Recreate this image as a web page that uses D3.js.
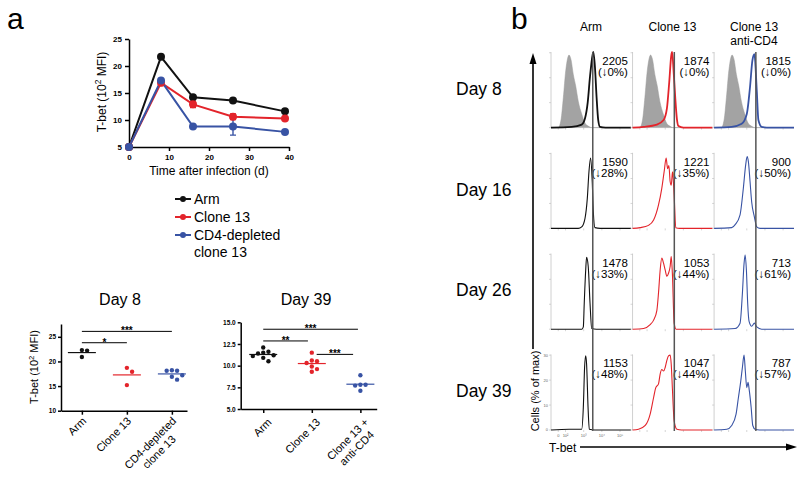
<!DOCTYPE html>
<html>
<head>
<meta charset="utf-8">
<script src="https://cdn.jsdelivr.net/npm/d3@7"></script>
<style>
body { margin: 0; background: #fff; }
svg { display: block; font-family: "Liberation Sans", Arial, sans-serif; }
</style>
</head>
<body>
<div id="chart-area"></div>
<script>
// ---------- panel a: time course ----------
var days = [0, 8, 16, 26, 39];
var armMfi = [5, 21.7, 14.2, 13.6, 11.6];
var armErr = [0, 0.2, 0.2, 0.3, 0.2];
var clone13Mfi = [5, 16.9, 12.9, 10.6, 10.3];
var clone13Err = [0, 0.5, 0.6, 0.5, 0.3];
var cd4Mfi = [5, 17.3, 8.8, 8.8, 7.8];
var cd4Err = [0, 0.3, 0.2, 1.6, 0.2];
var timeTicks = [0, 10, 20, 30, 40];
var mfiTicks = [5, 10, 15, 20, 25];
var seriesNames = ["Arm", "Clone 13", "CD4-depleted\nclone 13"];

// ---------- panel a: day 8 / day 39 scatter ----------
var day8Groups = ["Arm", "Clone 13", "CD4-depleted\nclone 13"];
var day8Arm = [22.3, 22.2, 20.9];
var day8Clone13 = [18.7, 17.9, 15.2];
var day8Cd4 = [18.2, 18.1, 18.1, 17.2, 16.9, 16.3];
var day8Ticks = [10, 15, 20, 25];
var day8Stars = [
  {from: 0, to: 2, at: 26.1, label: "***"},
  {from: 0, to: 1, at: 23.8, label: "*"}
];

var day39Groups = ["Arm", "Clone 13", "Clone 13 +\nanti-CD4"];
var day39Arm = [12.1, 11.6, 11.5, 11.4, 11.2, 11.1, 10.9, 10.5];
var day39Clone13 = [11.5, 10.6, 10.5, 10.3, 9.9, 9.6, 9.3];
var day39Cd4 = [8.9, 7.8, 7.8, 7.7, 7.1];
var day39Ticks = [5, 7.5, 10, 12.5, 15];
var day39Stars = [
  {from: 0, to: 1.95, at: 14.2, label: "***"},
  {from: 0, to: 0.92, at: 12.85, label: "**"},
  {from: 1.1, to: 1.85, at: 11.3, label: "***"}
];

// ---------- panel b: histograms, [log10 T-bet, % of max] ----------
var hColumns = ["Arm", "Clone 13", "Clone 13\nanti-CD4"];
var hDays = ["Day 8", "Day 16", "Day 26", "Day 39"];
var isotype = [[1.2,0],[1.6,0],[1.75,10],[1.88,40],[2.01,75],[2.12,92],[2.19,96],[2.3,90],[2.43,70],[2.56,55],[2.7,35],[2.89,18],[3.07,6],[3.25,2],[3.44,0],[5.6,0]];

var histArm8 = [[1.2,0],[2.34,1],[2.89,4],[3.07,12],[3.22,33],[3.35,68],[3.49,96],[3.53,100],[3.62,80],[3.71,40],[3.8,10],[3.9,1],[4.2,0],[5.6,0]];
var histClone8 = [[1.2,0],[1.81,1],[2.54,4],[2.91,10],[3.09,25],[3.22,60],[3.33,95],[3.38,100],[3.46,75],[3.55,40],[3.64,12],[3.73,2],[4.0,0],[5.6,0]];
var histCd4_8 = [[1.2,0],[2.17,1],[2.72,5],[3.0,18],[3.18,54],[3.31,89],[3.42,97],[3.55,49],[3.64,10],[3.82,1],[4.1,0],[5.6,0]];

var histArm16 = [[1.2,0],[2.7,0],[2.89,2],[3.07,13],[3.2,40],[3.29,75],[3.38,93],[3.47,62],[3.53,22],[3.62,1],[3.9,0],[5.6,0]];
var histClone16 = [[1.2,0],[1.62,1],[2.08,4],[2.36,11],[2.63,31],[2.81,53],[2.94,75],[3.05,93],[3.13,79],[3.2,83],[3.27,62],[3.33,57],[3.4,75],[3.49,44],[3.58,1],[3.8,0],[5.6,0]];
var histCd4_16 = [[1.2,0],[2.17,1],[2.36,5],[2.63,18],[2.81,53],[2.94,84],[3.02,95],[3.09,88],[3.18,62],[3.27,35],[3.42,15],[3.55,2],[3.73,0],[5.6,0]];

var histArm26 = [[1.2,0],[2.9,0],[2.98,3],[3.03,34],[3.11,78],[3.16,95],[3.25,83],[3.35,34],[3.44,1],[3.7,0],[5.6,0]];
var histClone26 = [[1.2,0],[1.81,1],[2.17,6],[2.36,12],[2.54,25],[2.63,48],[2.72,78],[2.81,94],[2.91,87],[3.0,78],[3.09,70],[3.18,74],[3.27,83],[3.33,96],[3.4,70],[3.49,8],[3.6,0],[5.6,0]];
var histCd4_26 = [[1.2,0],[2.36,1],[2.63,8],[2.76,48],[2.85,87],[2.91,98],[2.98,78],[3.05,34],[3.13,10],[3.27,4],[3.42,8],[3.55,3],[3.82,0],[5.6,0]];

var histArm39 = [[1.2,0],[2.2,1],[2.89,1],[2.98,30],[3.05,83],[3.11,98],[3.16,87],[3.24,30],[3.31,1],[3.6,0],[5.6,0]];
var histClone39 = [[1.2,0],[1.53,1],[1.9,6],[2.17,21],[2.36,43],[2.48,56],[2.63,61],[2.72,74],[2.81,80],[2.91,78],[3.0,83],[3.09,92],[3.18,98],[3.27,99],[3.33,87],[3.4,52],[3.49,12],[3.64,1],[3.9,0],[5.6,0]];
var histCd4_39 = [[1.2,0],[1.9,1],[2.17,6],[2.41,21],[2.54,43],[2.67,65],[2.76,83],[2.85,99],[2.92,78],[3.0,56],[3.07,63],[3.14,52],[3.24,30],[3.33,6],[3.46,1],[3.7,0],[5.6,0]];

var mfiArm = [2205, 1590, 1478, 1153];
var dropArm = [0, 28, 33, 48];
var mfiClone13 = [1874, 1221, 1053, 1047];
var dropClone13 = [0, 35, 44, 44];
var mfiCd4 = [1815, 900, 713, 787];
var dropCd4 = [0, 50, 61, 57];
var refLog = 3.5;
var flTicks = [1.6, 2, 3, 4, 5];
var flTickLabels = ["0", "10\u00b2", "10\u00b3", "10\u2074", "10\u2075"];
var cellTicks = [0, 33, 66, 99];
var cellTickLabels = ["0", "10", "20", "30"];

var black = "#111", red = "#e3242b", blue = "#3853a4";
var groupColors = [black, red, blue];

var svg = d3.select("#chart-area")
    .append("svg")
        .attr("width", 800)
        .attr("height", 483);

svg.append("text").attr("x", 7).attr("y", 29).attr("font-size", 30).text("a");
svg.append("text").attr("x", 511).attr("y", 29).attr("font-size", 30).text("b");

function styleAxis(sel, fs) {
    sel.attr("font-family", null).attr("font-size", null);
    sel.selectAll(".domain, .tick line").attr("stroke", "#000").attr("stroke-width", 1.5);
    sel.selectAll(".tick text").attr("font-size", fs).attr("font-weight", "bold").attr("fill", "#000");
}

function tbetTitle(g, px, py, fs) {
    var t = g.append("text")
        .attr("transform", "translate(" + px + "," + py + ") rotate(-90)")
        .attr("text-anchor", "middle")
        .attr("font-size", fs);
    t.append("tspan").text("T-bet (10");
    t.append("tspan").attr("dy", -fs * 0.4).attr("font-size", fs * 0.7).text("2");
    t.append("tspan").attr("dy", fs * 0.4).text(" MFI)");
}

// ---------- time course ----------
var x = d3.scaleLinear().domain([0, 40]).range([129, 289]);
var y = d3.scaleLinear().domain([5, 25]).range([147, 39]);
var tc = svg.append("g");

tc.append("g")
    .attr("transform", "translate(0,147)")
    .call(d3.axisBottom(x).tickValues(timeTicks).tickSize(4).tickSizeOuter(0))
    .call(styleAxis, 8);
tc.append("g")
    .attr("transform", "translate(129,0)")
    .call(d3.axisLeft(y).tickValues(mfiTicks).tickSize(4).tickSizeOuter(0))
    .call(styleAxis, 8);

tbetTitle(tc, 106, 92, 12);
tc.append("text")
    .attr("x", 209).attr("y", 175)
    .attr("text-anchor", "middle")
    .attr("font-size", 12)
    .text("Time after infection (d)");

var series = [
    {name: seriesNames[0], values: armMfi, err: armErr, color: black},
    {name: seriesNames[1], values: clone13Mfi, err: clone13Err, color: red},
    {name: seriesNames[2], values: cd4Mfi, err: cd4Err, color: blue}
];

var line = d3.line()
    .x((d, i) => x(days[i]))
    .y(d => y(d));

series.forEach(s => {
    tc.append("path")
        .attr("d", line(s.values))
        .attr("fill", "none")
        .attr("stroke", s.color)
        .attr("stroke-width", 2);
});

series.forEach(s => {
    s.values.forEach((v, i) => {
        var e = s.err[i];
        if (!e) return;
        var cx = x(days[i]);
        tc.append("path")
            .attr("d", "M" + cx + "," + y(v - e) + "V" + y(v + e) +
                "M" + (cx - 3) + "," + y(v - e) + "H" + (cx + 3) +
                "M" + (cx - 3) + "," + y(v + e) + "H" + (cx + 3))
            .attr("stroke", s.color)
            .attr("stroke-width", 1.4)
            .attr("fill", "none");
    });
});

series.forEach(s => {
    tc.selectAll(null)
        .data(s.values)
        .enter()
        .append("circle")
            .attr("cx", (d, i) => x(days[i]))
            .attr("cy", d => y(d))
            .attr("r", 4)
            .attr("fill", s.color);
});

// legend
var legend = svg.append("g").attr("transform", "translate(175,199)");
series.forEach((s, i) => {
    var row = legend.append("g").attr("transform", "translate(0," + i * 18 + ")");
    row.append("line").attr("x1", 0).attr("x2", 16)
        .attr("stroke", s.color).attr("stroke-width", 2);
    row.append("circle").attr("cx", 8).attr("r", 3).attr("fill", s.color);
    var t = row.append("text").attr("x", 19).attr("y", 5).attr("font-size", 14);
    s.name.split("\n").forEach((ln, j) => {
        t.append("tspan").attr("x", 19).attr("dy", j ? 17 : 0).text(ln);
    });
});

// ---------- dot plots ----------
function swarm(vals, ys, r) {
    var placed = [], step = 2 * r + 0.8;
    vals.slice().sort(d3.descending).forEach(v => {
        var py = ys(v), dx = 0;
        for (var k = 0; k < 20; k++) {
            dx = (k % 2 ? 1 : -1) * Math.ceil(k / 2) * step;
            if (placed.every(p => Math.hypot(p[0] - dx, p[1] - py) >= step)) break;
        }
        placed.push([dx, py]);
    });
    return placed;
}

function dotPlot(cfg) {
    var g = svg.append("g");
    var ys = d3.scaleLinear().domain(cfg.domain).range([cfg.yBottom, cfg.yTop]);
    var xs = d3.scalePoint().domain(cfg.groups).range([cfg.x0, cfg.x1]).padding(0.4).align(0.58);
    var n = cfg.groups.length;
    var xi = d3.scaleLinear().domain([0, n - 1]).range([xs(cfg.groups[0]), xs(cfg.groups[n - 1])]);

    g.append("g")
        .attr("transform", "translate(0," + cfg.yBottom + ")")
        .call(d3.axisBottom(xs).tickSize(4).tickSizeOuter(0).tickFormat(""))
        .call(styleAxis, 6);
    g.append("g")
        .attr("transform", "translate(" + cfg.x0 + ",0)")
        .call(d3.axisLeft(ys).tickValues(cfg.ticks).tickSize(3).tickPadding(2)
            .tickSizeOuter(0).tickFormat(cfg.fmt))
        .call(styleAxis, 6.5);

    cfg.sets.forEach((vals, i) => {
        var cx = xs(cfg.groups[i]);
        var m = d3.mean(vals);
        g.append("line")
            .attr("x1", cx - 14).attr("x2", cx + 14)
            .attr("y1", ys(m)).attr("y2", ys(m))
            .attr("stroke", groupColors[i]).attr("stroke-width", 1.2);
        g.selectAll(null)
            .data(swarm(vals, ys, 2.2))
            .enter()
            .append("circle")
                .attr("cx", d => cx + d[0])
                .attr("cy", d => d[1])
                .attr("r", 2.2)
                .attr("fill", groupColors[i]);
    });

    cfg.stars.forEach(s => {
        var sy = ys(s.at);
        g.append("line")
            .attr("x1", xi(s.from)).attr("x2", xi(s.to))
            .attr("y1", sy).attr("y2", sy)
            .attr("stroke", "#000").attr("stroke-width", 1);
        g.append("text")
            .attr("x", (xi(s.from) + xi(s.to)) / 2).attr("y", sy + 3)
            .attr("text-anchor", "middle")
            .attr("font-size", 10).attr("font-weight", "bold")
            .text(s.label);
    });

    cfg.groups.forEach(name => {
        var t = g.append("text")
            .attr("transform", "translate(" + (xs(name) + cfg.ldx) + "," + (cfg.yBottom + cfg.ldy) + ") rotate(-45)")
            .attr("text-anchor", "end")
            .attr("font-size", 11);
        var spans = name.split("\n").map((ln, j) =>
            t.append("tspan").attr("x", 0).attr("dy", j ? "1.15em" : 0).text(ln));
        var w = spans.map(sp => sp.node().getComputedTextLength());
        var W = d3.max(w);
        spans.forEach((sp, j) => sp.attr("x", -(W - w[j]) / 2));
    });

    g.append("text")
        .attr("x", cfg.titleX).attr("y", 305)
        .attr("text-anchor", "middle")
        .attr("font-size", 16)
        .text(cfg.title);

    if (cfg.yTitle) tbetTitle(g, 38, 367, 11);
}

dotPlot({
    x0: 61, x1: 187, yBottom: 410.7, yTop: 324, domain: [10, 27.6],
    ticks: day8Ticks, fmt: d3.format("d"), groups: day8Groups,
    sets: [day8Arm, day8Clone13, day8Cd4], stars: day8Stars,
    title: "Day 8", titleX: 120, ldx: 5, ldy: 11, yTitle: true
});

dotPlot({
    x0: 240.7, x1: 376.7, yBottom: 409, yTop: 322.3, domain: [5, 15],
    ticks: day39Ticks, fmt: d3.format(".1f"), groups: day39Groups,
    sets: [day39Arm, day39Clone13, day39Cd4], stars: day39Stars,
    title: "Day 39", titleX: 306, ldx: 9, ldy: 14, yTitle: false
});

// ---------- panel b: histograms ----------
var histRows = [
    [histArm8, histClone8, histCd4_8],
    [histArm16, histClone16, histCd4_16],
    [histArm26, histClone26, histCd4_26],
    [histArm39, histClone39, histCd4_39]
];
var mfiCols = [mfiArm, mfiClone13, mfiCd4];
var dropCols = [dropArm, dropClone13, dropCd4];

var colScale = d3.scaleBand().domain(hColumns).range([551, 794]).paddingInner(0.02);
var rowScale = d3.scaleBand().domain(hDays).range([52, 430]).paddingInner(0.25);
var fl = d3.scaleLinear().domain([1.2, 5.6]).range([0, colScale.bandwidth()]);
var cnt = d3.scaleLinear().domain([0, 100]).range([rowScale.bandwidth(), 0]);
var bw = colScale.bandwidth(), bh = rowScale.bandwidth();

var histLine = d3.line().x(d => fl(d[0])).y(d => cnt(d[1])).curve(d3.curveMonotoneX);
var isoArea = d3.area().x(d => fl(d[0])).y0(cnt(0)).y1(d => cnt(d[1])).curve(d3.curveMonotoneX);

var hb = svg.append("g");

hDays.forEach((day, r) => {
    hColumns.forEach((col, c) => {
        var p = hb.append("g")
            .attr("transform", "translate(" + colScale(col) + "," + rowScale(day) + ")");
        p.append("line").attr("x1", 0).attr("x2", 0).attr("y1", 0).attr("y2", bh)
            .attr("stroke", "#c4c4c4").attr("stroke-width", 0.8);
        flTicks.forEach(t => {
            p.append("line").attr("x1", fl(t)).attr("x2", fl(t)).attr("y1", bh).attr("y2", bh + 2)
                .attr("stroke", "#bbb").attr("stroke-width", 0.6);
        });
        cellTicks.forEach(t => {
            p.append("line").attr("x1", -2).attr("x2", 0).attr("y1", cnt(t)).attr("y2", cnt(t))
                .attr("stroke", "#bbb").attr("stroke-width", 0.6);
        });
        if (r === 0) {
            p.append("path").attr("d", isoArea(isotype))
                .attr("fill", "#a3a3a3").attr("stroke", "#999").attr("stroke-width", 0.5);
        }
        p.append("path").attr("d", histLine(histRows[r][c]))
            .attr("fill", "none")
            .attr("stroke", groupColors[c])
            .attr("stroke-width", r === 0 ? 1.8 : 1.1);
        p.append("text")
            .attr("x", bw - 3).attr("y", 13)
            .attr("text-anchor", "end").attr("font-size", 11.5)
            .text(mfiCols[c][r]);
        p.append("text")
            .attr("x", bw - 3).attr("y", 24)
            .attr("text-anchor", "end").attr("font-size", 11.5)
            .text("(\u2193" + dropCols[c][r] + "%)");
        if (r === hDays.length - 1 && c === 0) {
            p.selectAll(null).data(flTicks).enter().append("text")
                .attr("x", d => fl(d)).attr("y", bh + 7)
                .attr("text-anchor", "middle").attr("font-size", 4).attr("fill", "#666")
                .text((d, i) => flTickLabels[i]);
            p.selectAll(null).data(cellTicks).enter().append("text")
                .attr("x", -3).attr("y", d => cnt(d) + 1.5)
                .attr("text-anchor", "end").attr("font-size", 4).attr("fill", "#666")
                .text((d, i) => cellTickLabels[i]);
        }
    });
});

// reference lines at the day 8 peak
hColumns.forEach(col => {
    var rx = colScale(col) + fl(refLog);
    hb.append("line")
        .attr("x1", rx).attr("x2", rx)
        .attr("y1", 52).attr("y2", 431)
        .attr("stroke", "#555").attr("stroke-width", 1.5);
});

// column headers
hColumns.forEach(col => {
    var t = hb.append("text")
        .attr("x", colScale(col) + bw / 2).attr("y", 31)
        .attr("text-anchor", "middle").attr("font-size", 12);
    col.split("\n").forEach((ln, j) => {
        t.append("tspan").attr("x", colScale(col) + bw / 2).attr("dy", j ? 14 : 0).text(ln);
    });
});

// row labels
hDays.forEach(day => {
    hb.append("text")
        .attr("x", 456).attr("y", rowScale(day) + bh / 2 + 5)
        .attr("font-size", 17.5)
        .text(day);
});

// axis arrows
hb.append("line").attr("x1", 533).attr("x2", 533).attr("y1", 62).attr("y2", 349)
    .attr("stroke", "#000").attr("stroke-width", 1.6);
hb.append("path").attr("d", "M533,53L529.5,64L536.5,64Z").attr("fill", "#000");
hb.append("text")
    .attr("transform", "translate(539,391) rotate(-90)")
    .attr("text-anchor", "middle").attr("font-size", 11)
    .text("Cells (% of max)");

hb.append("text").attr("x", 549).attr("y", 452).attr("font-size", 12).text("T-bet");
hb.append("line").attr("x1", 580).attr("x2", 788).attr("y1", 447).attr("y2", 447)
    .attr("stroke", "#000").attr("stroke-width", 1.6);
hb.append("path").attr("d", "M797,447L786,443.5L786,450.5Z").attr("fill", "#000");
</script>
</body>
</html>
